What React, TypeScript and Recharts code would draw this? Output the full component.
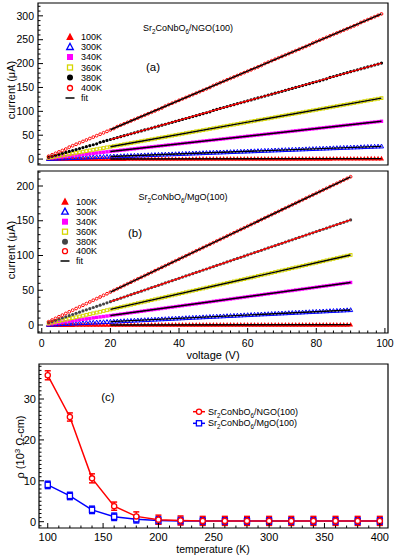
import React from 'react';
import { ComposedChart, Line, XAxis, YAxis, ReferenceArea, Legend, ErrorBar } from 'recharts';

const FONT = '"Liberation Sans", Arial, Helvetica, sans-serif';

// ---------- Panel (a): Sr2CoNbO6/NGO(100), I-V ----------
const V_A = [2,3,4,5,6,7,8,9,10,11,12,13,14,15,16,17,18,19,20,21,22,23,24,25,26,27,28,29,30,31,32,33,34,35,36,37,38,39,40,41,42,43,44,45,46,47,48,49,50,51,52,53,54,55,56,57,58,59,60,61,62,63,64,65,66,67,68,69,70,71,72,73,74,75,76,77,78,79,80,81,82,83,84,85,86,87,88,89,90,91,92,93,94,95,96,97,98,99];
const A100 = [0,0,0,0.1,0.1,0.1,0.1,0.1,0.1,0.1, 0.1,0.1,0.1,0.2,0.2,0.2,0.2,0.2,0.2,0.2, 0.2,0.2,0.2,0.3,0.3,0.3,0.3,0.3,0.3,0.3, 0.3,0.3,0.3,0.4,0.4,0.4,0.4,0.4,0.4,0.4, 0.4,0.4,0.4,0.5,0.5,0.5,0.5,0.5,0.5,0.5, 0.5,0.5,0.5,0.6,0.6,0.6,0.6,0.6,0.6,0.6, 0.6,0.6,0.6,0.7,0.7,0.7,0.7,0.7,0.7,0.7, 0.7,0.7,0.7,0.8,0.8,0.8,0.8,0.8,0.8,0.8, 0.8,0.8,0.8,0.9,0.9,0.9,0.9,0.9,0.9,0.9, 0.9,0.9,0.9,1.0,1.0,1.0,1.0,1.0];
const A300 = [0.5,0.8,1.1,1.4,1.6,1.9,2.2,2.4,2.7,3.0, 3.2,3.5,3.8,4.1,4.3,4.6,4.9,5.1,5.4,5.7, 5.9,6.2,6.5,6.8,7.0,7.3,7.6,7.8,8.1,8.4, 8.6,8.9,9.2,9.5,9.7,10.0,10.3,10.5,10.8,11.1, 11.3,11.6,11.9,12.2,12.4,12.7,13.0,13.2,13.5,13.8, 14.0,14.3,14.6,14.9,15.1,15.4,15.7,15.9,16.2,16.5, 16.7,17.0,17.3,17.6,17.8,18.1,18.4,18.6,18.9,19.2, 19.4,19.7,20.0,20.3,20.5,20.8,21.1,21.3,21.6,21.9, 22.1,22.4,22.7,23.0,23.2,23.5,23.8,24.0,24.3,24.6, 24.8,25.1,25.4,25.7,25.9,26.2,26.5,26.7];
const A340 = [1.6,2.4,3.2,4,4.8,5.6,6.4,7.2,8,8.8, 9.6,10.4,11.2,12,12.8,13.6,14.4,15.2,16,16.8, 17.6,18.4,19.2,20,20.8,21.6,22.4,23.2,24,24.8, 25.6,26.4,27.2,28,28.8,29.6,30.4,31.2,32,32.8, 33.6,34.4,35.2,36,36.8,37.6,38.4,39.2,40,40.8, 41.6,42.4,43.2,44,44.8,45.6,46.4,47.2,48,48.8, 49.6,50.4,51.2,52,52.8,53.6,54.4,55.2,56,56.8, 57.6,58.4,59.2,60,60.8,61.6,62.4,63.2,64,64.8, 65.6,66.4,67.2,68,68.8,69.6,70.4,71.2,72,72.8, 73.6,74.4,75.2,76,76.8,77.6,78.4,79.2];
const A360 = [2.6,3.9,5.2,6.5,7.7,9.0,10.3,11.6,12.9,14.2, 15.5,16.8,18.1,19.4,20.6,21.9,23.2,24.5,25.8,27.1, 28.4,29.7,31.0,32.3,33.5,34.8,36.1,37.4,38.7,40.0, 41.3,42.6,43.9,45.2,46.4,47.7,49.0,50.3,51.6,52.9, 54.2,55.5,56.8,58.1,59.3,60.6,61.9,63.2,64.5,65.8, 67.1,68.4,69.7,71.0,72.2,73.5,74.8,76.1,77.4,78.7, 80.0,81.3,82.6,83.9,85.1,86.4,87.7,89.0,90.3,91.6, 92.9,94.2,95.5,96.8,98.0,99.3,100.6,101.9,103.2,104.5, 105.8,107.1,108.4,109.7,110.9,112.2,113.5,114.8,116.1,117.4, 118.7,120.0,121.3,122.6,123.8,125.1,126.4,127.7];
const A380 = [4,6,8,10,12,14,16,18,20,22, 24,26,28,30,32,35,37,39,41,43, 45,47,49,51,53,55,57,59,61,63, 65,67,69,71,73,75,77,79,81,83, 85,87,89,91,93,95,97,99,102,104, 106,108,110,112,114,116,118,120,122,124, 126,128,130,132,134,136,138,140,142,144, 146,148,150,152,154,156,158,160,162,164, 166,168,171,173,175,177,179,181,183,185, 187,189,191,193,195,197,199,201];
const A400 = [6,9,12,15,18,21,25,28,31,34, 37,40,43,46,49,52,55,58,61,64, 68,71,74,77,80,83,86,89,92,95, 98,101,104,107,111,114,117,120,123,126, 129,132,135,138,141,144,147,150,154,157, 160,163,166,169,172,175,178,181,184,187, 190,193,196,200,203,206,209,212,215,218, 221,224,227,230,233,236,239,243,246,249, 252,255,258,261,264,267,270,273,276,279, 282,286,289,292,295,298,301,304];

const FIT_A_V = [20, 99];
const FIT_A100 = [0.2, 1.0];
const FIT_A300 = [5.4, 26.7];
const FIT_A340 = [16, 79.2];
const FIT_A360 = [25.8, 127.7];
const FIT_A380 = [40.6, 201];
const FIT_A400 = [61.4, 303.9];

// ---------- Panel (b): Sr2CoNbO6/MgO(100), I-V ----------
const V_B = [2,3,4,5,6,7,8,9,10,11,12,13,14,15,16,17,18,19,20,21,22,23,24,25,26,27,28,29,30,31,32,33,34,35,36,37,38,39,40,41,42,43,44,45,46,47,48,49,50,51,52,53,54,55,56,57,58,59,60,61,62,63,64,65,66,67,68,69,70,71,72,73,74,75,76,77,78,79,80,81,82,83,84,85,86,87,88,89,90];
const B100 = [0,0,0,0,0,0,0,0,0.1,0.1, 0.1,0.1,0.1,0.1,0.1,0.1,0.1,0.1,0.1,0.1, 0.1,0.1,0.1,0.1,0.1,0.1,0.1,0.1,0.2,0.2, 0.2,0.2,0.2,0.2,0.2,0.2,0.2,0.2,0.2,0.2, 0.2,0.2,0.2,0.2,0.2,0.2,0.2,0.2,0.3,0.3, 0.3,0.3,0.3,0.3,0.3,0.3,0.3,0.3,0.3,0.3, 0.3,0.3,0.3,0.3,0.3,0.3,0.3,0.3,0.4,0.4, 0.4,0.4,0.4,0.4,0.4,0.4,0.4,0.4,0.4,0.4, 0.4,0.4,0.4,0.4,0.4,0.4,0.4,0.4,0.5];
const B300 = [0.5,0.7,1.0,1.2,1.4,1.7,1.9,2.2,2.4,2.6, 2.9,3.1,3.4,3.6,3.8,4.1,4.3,4.6,4.8,5.0, 5.3,5.5,5.8,6.0,6.2,6.5,6.7,7.0,7.2,7.4, 7.7,7.9,8.2,8.4,8.6,8.9,9.1,9.4,9.6,9.8, 10.1,10.3,10.6,10.8,11.0,11.3,11.5,11.8,12.0,12.2, 12.5,12.7,13.0,13.2,13.4,13.7,13.9,14.2,14.4,14.6, 14.9,15.1,15.4,15.6,15.8,16.1,16.3,16.6,16.8,17.0, 17.3,17.5,17.8,18.0,18.2,18.5,18.7,19.0,19.2,19.4, 19.7,19.9,20.2,20.4,20.6,20.9,21.1,21.4,21.6];
const B340 = [1.4,2.0,2.7,3.4,4.1,4.8,5.4,6.1,6.8,7.5, 8.2,8.8,9.5,10.2,10.9,11.6,12.2,12.9,13.6,14.3, 15.0,15.6,16.3,17.0,17.7,18.4,19.0,19.7,20.4,21.1, 21.8,22.4,23.1,23.8,24.5,25.2,25.8,26.5,27.2,27.9, 28.6,29.2,29.9,30.6,31.3,32.0,32.6,33.3,34.0,34.7, 35.4,36.0,36.7,37.4,38.1,38.8,39.4,40.1,40.8,41.5, 42.2,42.8,43.5,44.2,44.9,45.6,46.2,46.9,47.6,48.3, 49.0,49.6,50.3,51.0,51.7,52.4,53.0,53.7,54.4,55.1, 55.8,56.4,57.1,57.8,58.5,59.2,59.8,60.5,61.2];
const B360 = [2.2,3.4,4.5,5.6,6.7,7.8,9.0,10.1,11.2,12.3, 13.4,14.6,15.7,16.8,17.9,19.0,20.2,21.3,22.4,23.5, 24.6,25.8,26.9,28.0,29.1,30.2,31.4,32.5,33.6,34.7, 35.8,37.0,38.1,39.2,40.3,41.4,42.6,43.7,44.8,45.9, 47.0,48.2,49.3,50.4,51.5,52.6,53.8,54.9,56.0,57.1, 58.2,59.4,60.5,61.6,62.7,63.8,65.0,66.1,67.2,68.3, 69.4,70.6,71.7,72.8,73.9,75.0,76.2,77.3,78.4,79.5, 80.6,81.8,82.9,84.0,85.1,86.2,87.4,88.5,89.6,90.7, 91.8,93.0,94.1,95.2,96.3,97.4,98.6,99.7,100.8];
const B380 = [3.4,5.0,6.7,8.4,10.1,11.8,13.4,15.1,16.8,18.5, 20.2,21.8,23.5,25.2,26.9,28.6,30.2,31.9,33.6,35.3, 37.0,38.6,40.3,42.0,43.7,45.4,47.0,48.7,50.4,52.1, 53.8,55.4,57.1,58.8,60.5,62.2,63.8,65.5,67.2,68.9, 70.6,72.2,73.9,75.6,77.3,79.0,80.6,82.3,84.0,85.7, 87.4,89.0,90.7,92.4,94.1,95.8,97.4,99.1,100.8,102.5, 104.2,105.8,107.5,109.2,110.9,112.6,114.2,115.9,117.6,119.3, 121.0,122.6,124.3,126.0,127.7,129.4,131.0,132.7,134.4,136.1, 137.8,139.4,141.1,142.8,144.5,146.2,147.8,149.5,151.2];
const B400 = [4.7,7.1,9.5,11.9,14.2,16.6,19.0,21.3,23.7,26.1, 28.4,30.8,33.2,35.6,37.9,40.3,42.7,45.0,47.4,49.8, 52.1,54.5,56.9,59.3,61.6,64.0,66.4,68.7,71.1,73.5, 75.8,78.2,80.6,83.0,85.3,87.7,90.1,92.4,94.8,97.2, 99.5,101.9,104.3,106.7,109.0,111.4,113.8,116.1,118.5,120.9, 123.2,125.6,128.0,130.4,132.7,135.1,137.5,139.8,142.2,144.6, 146.9,149.3,151.7,154.1,156.4,158.8,161.2,163.5,165.9,168.3, 170.6,173.0,175.4,177.8,180.1,182.5,184.9,187.2,189.6,192.0, 194.3,196.7,199.1,201.5,203.8,206.2,208.6,210.9,213.3];

const FIT_B_V = [20, 90];
const FIT_B100 = [0.1, 0.5];
const FIT_B300 = [4.8, 21.6];
const FIT_B340 = [13.6, 61.2];
const FIT_B360 = [22.4, 100.8];
const FIT_B380 = [33.6, 151.2];
const FIT_B400 = [47.4, 213.3];

// ---------- Panel (c): resistivity vs temperature ----------
const TEMPS = [100,120,140,160,180,200,220,240,260,280,300,320,340,360,380,400];
const RHO_NGO = [35.8,25.6,10.6,3.8,1.3,0.5,0.3,0.2,0.2,0.2,0.2,0.2,0.2,0.2,0.2,0.2];
const ERR_NGO = [1.1,1.0,1.1,1.0,1.1,1.1,1.1,1.1,1.1,1.1,1.1,1.1,1.1,1.1,1.1,1.1];
const RHO_MGO = [9.0,6.3,2.9,1.2,0.6,0.3,0.2,0.15,0.15,0.15,0.15,0.15,0.15,0.15,0.15,0.15];
const ERR_MGO = [0.9,0.9,0.9,0.9,0.9,0.9,0.9,0.9,0.9,0.9,0.9,0.9,0.9,0.9,0.9,0.9];

// tick labels
const TEMP_LABELS = ['100K','300K','340K','360K','380K','400K'];
const FILMS = ['NGO', 'MgO'];
const X_MAJOR = [0,20,40,60,80,100];
const YA_MAJOR = [0,50,100,150,200,250,300];
const YB_MAJOR = [0,50,100,150,200];
const XC_MAJOR = [100,150,200,250,300,350,400];
const YC_MAJOR = [0,10,20,30];

const steps = (a: number, b: number, s: number) => {
  const r: number[] = [];
  for (let i = 0; a + i * s <= b + 1e-9; i++) r.push(Math.round((a + i * s) * 100) / 100);
  return r;
};
const X_TICKS = steps(0, 100, 2.5);
const YA_TICKS = steps(-10, 320, 10);
const YB_TICKS = steps(-10, 220, 10);
const XC_TICKS = steps(100, 400, 10);
const YC_TICKS = steps(-1, 38, 1);

// ---------- styles ----------
const STY = [
  { key: 's100', shape: 'tri', color: '#ff0000', filled: true },
  { key: 's300', shape: 'tri', color: '#0000ff', filled: false },
  { key: 's340', shape: 'sq', color: '#ff00ff', filled: true },
  { key: 's360', shape: 'sq', color: '#d6d600', filled: false },
  { key: 's380', shape: 'circ', color: '#000000', filled: true },
  { key: 's400', shape: 'circ', color: '#ff0000', filled: false },
];

function Mk({ cx, cy, shape, color, filled, s, sw = 1 }: any) {
  if (cx == null || cy == null || isNaN(cx) || isNaN(cy)) return null;
  const fill = filled ? color : 'none';
  const stroke = filled ? 'none' : color;
  if (shape === 'tri') {
    const pts = `${cx},${cy - s * 0.6} ${cx - s * 0.55},${cy + s * 0.42} ${cx + s * 0.55},${cy + s * 0.42}`;
    return <polygon points={pts} fill={fill} stroke={stroke} strokeWidth={sw} />;
  }
  if (shape === 'sq') {
    return <rect x={cx - s / 2} y={cy - s / 2} width={s} height={s} fill={fill} stroke={stroke} strokeWidth={sw} />;
  }
  return <circle cx={cx} cy={cy} r={s / 2} fill={fill} stroke={stroke} strokeWidth={sw} />;
}

const dataSize = (shape: string, filled: boolean) =>
  shape === 'tri' ? (filled ? 4.6 : 3.8) : shape === 'sq' ? (filled ? 3.4 : 2.8) : filled ? 3.2 : 2.8;
const legSize = (shape: string, filled: boolean) =>
  shape === 'tri' ? (filled ? 7 : 6) : shape === 'sq' ? (filled ? 6 : 5) : filled ? 6 : 5;

const xTick = (majors: number[], showLabel: boolean, fs: number, dy: number) => (p: any) => {
  const v = p.payload.value;
  const maj = majors.includes(v);
  return (
    <g key={`xt-${v}`}>
      <line x1={p.x} x2={p.x} y1={p.y} y2={p.y - (maj ? 5 : 2.5)} stroke="#000" strokeWidth={1} />
      {showLabel && maj ? (
        <text x={p.x} y={p.y + dy} textAnchor="middle" fontSize={fs} fontFamily={FONT} fill="#000">{v}</text>
      ) : null}
    </g>
  );
};
const yTick = (majors: number[], fs: number, gap: number) => (p: any) => {
  const v = p.payload.value;
  const maj = majors.includes(v);
  return (
    <g key={`yt-${v}`}>
      <line x1={p.x} x2={p.x + (maj ? 5 : 2.5)} y1={p.y} y2={p.y} stroke="#000" strokeWidth={1} />
      {maj ? (
        <text x={p.x - gap} y={p.y} dy="0.35em" textAnchor="end" fontSize={fs} fontFamily={FONT} fill="#000">{v}</text>
      ) : null}
    </g>
  );
};

const Compound = ({ x, y, fs, sub, anchor = 'start' }: any) => (
  <text x={x} y={y} fontSize={fs} fontFamily={FONT} textAnchor={anchor} fill="#000">
    Sr<tspan dy={fs * 0.3} fontSize={fs * 0.7}>2</tspan>
    <tspan dy={-fs * 0.3}>CoNbO</tspan>
    <tspan dy={fs * 0.3} fontSize={fs * 0.7}>6</tspan>
    <tspan dy={-fs * 0.3}>/{sub}(100)</tspan>
  </text>
);

const buildRows = (vs: number[], cols: number[][]) =>
  vs.map((v, i) => ({ v, s100: cols[0][i], s300: cols[1][i], s340: cols[2][i], s360: cols[3][i], s380: cols[4][i], s400: cols[5][i] }));
const buildFit = (vs: number[], ys: number[]) => vs.map((v, i) => ({ v, y: ys[i] }));

const rowsA = buildRows(V_A, [A100, A300, A340, A360, A380, A400]);
const rowsB = buildRows(V_B, [B100, B300, B340, B360, B380, B400]);
const fitsA = [FIT_A100, FIT_A300, FIT_A340, FIT_A360, FIT_A380, FIT_A400].map((f) => buildFit(FIT_A_V, f));
const fitsB = [FIT_B100, FIT_B300, FIT_B340, FIT_B360, FIT_B380, FIT_B400].map((f) => buildFit(FIT_B_V, f));
const rowsC = TEMPS.map((t, i) => ({ t, ngo: RHO_NGO[i], mgo: RHO_MGO[i], engo: ERR_NGO[i], emgo: ERR_MGO[i] }));

const FIT_COLORS = ['#000', '#000', '#000', '#000', '#ff0000', '#000'];

function IVPanel({ rows, fits, height, xAxisH, yDomain, yTicks, yMajor, showXLabels, c380, legendY, legendMx, legendTx, title, titleX, titleY, tag, tagX, tagY, yLabelY, xLabel }: any) {
  const xDomain = [-1.1, 100.9];
  return (
    <ComposedChart width={399} height={height} margin={{ top: 3, right: 11, bottom: height - 3 - 164 - xAxisH < 0 ? 0 : height - 3 - 162 - xAxisH, left: 0 }}>
      <XAxis type="number" dataKey="v" domain={xDomain} ticks={X_TICKS} interval={0} allowDataOverflow
        height={xAxisH} tickSize={0} tickMargin={0} tickLine={false} axisLine={false}
        tick={xTick(X_MAJOR, showXLabels, 10.5, 13.7)} />
      <YAxis type="number" domain={yDomain} ticks={yTicks} interval={0} allowDataOverflow width={38}
        tickSize={0} tickMargin={0} tickLine={false} axisLine={false} tick={yTick(yMajor, 10.5, 4)} />
      {STY.map((s) => {
        const color = s.key === 's380' ? c380 : s.color;
        return (
          <Line key={s.key} data={rows} dataKey={s.key} stroke="none" isAnimationActive={false} activeDot={false}
            dot={(p: any) => <Mk key={`${s.key}-${p.index}`} cx={p.cx} cy={p.cy} shape={s.shape} color={color} filled={s.filled} s={dataSize(s.shape, s.filled)} />} />
        );
      })}
      {fits.map((f: any, i: number) => (
        <Line key={`fit-${i}`} data={f} dataKey="y" stroke={FIT_COLORS[i]} strokeWidth={1.4} dot={false} activeDot={false} isAnimationActive={false} zIndex={1600} />
      ))}
      <ReferenceArea x1={xDomain[0]} x2={xDomain[1]} y1={yDomain[0]} y2={yDomain[1]} fill="none" fillOpacity={0} stroke="#000" strokeWidth={1.2} ifOverflow="visible" zIndex={1700} />
      <Legend layout="vertical" align="center" verticalAlign="middle"
        wrapperStyle={{ position: 'absolute', left: 0, top: 0, width: 399, height, margin: 0, padding: 0 }}
        content={() => (
          <svg width={399} height={height} style={{ display: 'block', overflow: 'visible' }}>
            {STY.map((s, i) => (
              <g key={s.key}>
                <Mk cx={legendMx} cy={legendY[i]} shape={s.shape} color={s.key === 's380' ? c380 : s.color} filled={s.filled} s={legSize(s.shape, s.filled)} sw={1.3} />
                <text x={legendTx} y={legendY[i]} dy="0.35em" fontSize={9} fontFamily={FONT} fill="#000">{TEMP_LABELS[i]}</text>
              </g>
            ))}
            <line x1={legendMx - 4.5} x2={legendMx + 4.5} y1={legendY[6]} y2={legendY[6]} stroke="#000" strokeWidth={1.5} />
            <text x={legendTx} y={legendY[6]} dy="0.35em" fontSize={9} fontFamily={FONT} fill="#000">fit</text>
            <Compound x={titleX} y={titleY} fs={9} sub={title} anchor="middle" />
            <text x={tagX} y={tagY} fontSize={11.5} fontFamily={FONT} textAnchor="middle" fill="#000">{tag}</text>
            <text transform={`translate(15,${yLabelY}) rotate(-90)`} textAnchor="middle" fontSize={11} fontFamily={FONT} fill="#000">current (μA)</text>
            {xLabel ? (
              <text x={213} y={height - 4} textAnchor="middle" fontSize={11} fontFamily={FONT} fill="#000">voltage (V)</text>
            ) : null}
          </svg>
        )} />
    </ComposedChart>
  );
}

function RhoPanel() {
  const height = 200;
  const xDomain = [92.1, 407.4];
  const yDomain = [-1.54, 38.56];
  return (
    <ComposedChart width={399} height={height} data={rowsC} margin={{ top: 9, right: 11, bottom: 0, left: 0 }}>
      <XAxis type="number" dataKey="t" domain={xDomain} ticks={XC_TICKS} interval={0} allowDataOverflow
        height={27} tickSize={0} tickMargin={0} tickLine={false} axisLine={false} tick={xTick(XC_MAJOR, true, 11, 12.6)} />
      <YAxis type="number" domain={yDomain} ticks={YC_TICKS} interval={0} allowDataOverflow width={39}
        tickSize={0} tickMargin={0} tickLine={false} axisLine={false} tick={yTick(YC_MAJOR, 11, 3)} />
      <Line dataKey="mgo" stroke="#0000ff" strokeWidth={1.5} isAnimationActive={false} activeDot={false}
        dot={(p: any) => <rect key={`m-${p.index}`} x={p.cx - 2.6} y={p.cy - 2.6} width={5.2} height={5.2} fill="#fff" stroke="#0000ff" strokeWidth={1.3} />}>
        <ErrorBar dataKey="emgo" width={3} stroke="#0000ff" strokeWidth={1.5} direction="y" />
      </Line>
      <Line dataKey="ngo" stroke="#ff0000" strokeWidth={1.5} isAnimationActive={false} activeDot={false}
        dot={(p: any) => <circle key={`n-${p.index}`} cx={p.cx} cy={p.cy} r={2.6} fill="#fff" stroke="#ff0000" strokeWidth={1.3} />}>
        <ErrorBar dataKey="engo" width={3} stroke="#ff0000" strokeWidth={1.5} direction="y" />
      </Line>
      <ReferenceArea x1={xDomain[0]} x2={xDomain[1]} y1={yDomain[0]} y2={yDomain[1]} fill="none" fillOpacity={0} stroke="#000" strokeWidth={1.2} ifOverflow="visible" zIndex={1700} />
      <Legend layout="vertical" align="center" verticalAlign="middle"
        wrapperStyle={{ position: 'absolute', left: 0, top: 0, width: 399, height, margin: 0, padding: 0 }}
        content={() => (
          <svg width={399} height={height} style={{ display: 'block', overflow: 'visible' }}>
            <line x1={193} x2={205} y1={56.7} y2={56.7} stroke="#ff0000" strokeWidth={1.5} />
            <circle cx={199} cy={56.7} r={2.6} fill="#fff" stroke="#ff0000" strokeWidth={1.3} />
            <Compound x={208} y={59.8} fs={9} sub={FILMS[0]} />
            <line x1={193} x2={205} y1={68.3} y2={68.3} stroke="#0000ff" strokeWidth={1.5} />
            <rect x={196.4} y={65.7} width={5.2} height={5.2} fill="#fff" stroke="#0000ff" strokeWidth={1.3} />
            <Compound x={208} y={71.4} fs={9} sub={FILMS[1]} />
            <text x={108} y={46} fontSize={11.5} fontFamily={FONT} textAnchor="middle" fill="#000">(c)</text>
            <text transform="translate(24,92) rotate(-90)" textAnchor="middle" fontSize={11} fontFamily={FONT} fill="#000">
              ρ (10<tspan dy={-4.5} fontSize={8}>3</tspan><tspan dy={4.5}> Ω-cm)</tspan>
            </text>
            <text x={213} y={198} textAnchor="middle" fontSize={10.5} fontFamily={FONT} fill="#000">temperature (K)</text>
          </svg>
        )} />
    </ComposedChart>
  );
}

export default function App() {
  return (
    <div style={{ position: 'absolute', left: 0, top: 0, width: 399, height: 555, background: '#fff', overflow: 'hidden' }}>
      <div style={{ position: 'absolute', left: 0, top: 0 }}>
        <IVPanel rows={rowsA} fits={fitsA} height={170} xAxisH={0} yDomain={[-12.4, 326.9]} yTicks={YA_TICKS} yMajor={YA_MAJOR}
          showXLabels={false} c380="#000000" legendY={[37, 47, 57, 67.5, 77.5, 88, 98]} legendMx={70} legendTx={81}
          title={FILMS[0]} titleX={188} titleY={31} tag="(a)" tagX={153} tagY={71} yLabelY={90} xLabel={false} />
      </div>
      <div style={{ position: 'absolute', left: 0, top: 168 }}>
        <IVPanel rows={rowsB} fits={fitsB} height={195} xAxisH={30} yDomain={[-11.5, 221.6]} yTicks={YB_TICKS} yMajor={YB_MAJOR}
          showXLabels={true} c380="#444444" legendY={[33.7, 43.7, 53.7, 63.7, 73.7, 83.2, 93]} legendMx={65} legendTx={76}
          title={FILMS[1]} titleX={183} titleY={32} tag="(b)" tagX={135} tagY={69} yLabelY={82} xLabel={true} />
      </div>
      <div style={{ position: 'absolute', left: 0, top: 355 }}>
        <RhoPanel />
      </div>
    </div>
  );
}
